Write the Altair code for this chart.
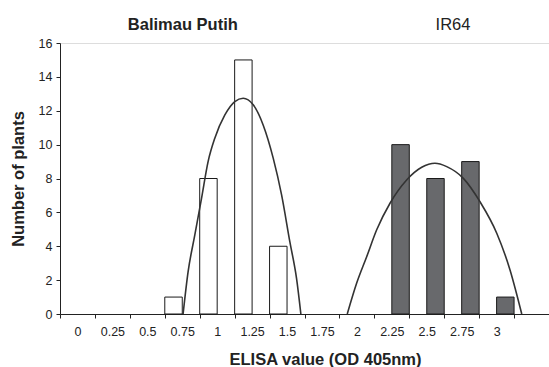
import altair as alt
import pandas as pd

# Category axis (ELISA value bins)
categories = ["0", "0.25", "0.5", "0.75", "1", "1.25", "1.5", "1.75", "2",
              "2.25", "2.5", "2.75", "3", "3.25"]
cultivars = ["Balimau Putih", "IR64"]

# Bar counts
bp_bins = ["0.75", "1", "1.25", "1.5"]
bp_counts = [1, 8, 15, 4]
ir_bins = ["2.25", "2.5", "2.75", "3"]
ir_counts = [10, 8, 9, 1]

# Fitted curves (x in ELISA units)
bp_curve_x = [0.756, 0.792, 0.840, 0.888, 0.935, 0.983, 1.055, 1.126, 1.186,
              1.258, 1.329, 1.401, 1.461, 1.520, 1.568, 1.599]
bp_curve_y = [0.0, 2.50, 4.67, 6.83, 9.0, 10.38, 11.75, 12.54, 12.74,
              12.35, 11.16, 9.2, 7.03, 4.27, 2.1, 0.0]
ir_curve_x = [1.931, 1.998, 2.070, 2.141, 2.237, 2.356, 2.464, 2.559, 2.643,
              2.762, 2.881, 3.001, 3.096, 3.180]
ir_curve_y = [0.0, 1.81, 3.38, 4.96, 6.54, 7.91, 8.66, 8.9, 8.70,
              8.01, 6.63, 4.77, 2.6, 0.0]

# Panel labels
label_text = ["Balimau Putih", "IR64"]
label_x = [0.754, 2.688]
label_y = [17.05, 17.05]

y_ticks = [0, 2, 4, 6, 8, 10, 12, 14, 16]

FONT = "Liberation Sans"

bars_df = pd.DataFrame({
    "elisa": bp_bins + ir_bins,
    "count": bp_counts + ir_counts,
    "cultivar": [cultivars[0]] * len(bp_bins) + [cultivars[1]] * len(ir_bins),
})
curve_df = pd.DataFrame({
    "v": bp_curve_x + ir_curve_x,
    "n": bp_curve_y + ir_curve_y,
    "cultivar": [cultivars[0]] * len(bp_curve_x) + [cultivars[1]] * len(ir_curve_x),
    "order": list(range(len(bp_curve_x))) + list(range(len(ir_curve_x))),
})
label_df = pd.DataFrame({"t": label_text, "v": label_x, "n": label_y})

yscale = alt.Scale(domain=[0, 16], nice=False)
qx = alt.Scale(domain=[-0.125, 3.375], nice=False, zero=False)

yaxis = alt.Axis(title="Number of plants", values=y_ticks, tickCount=9,
                 grid=False, domainColor="#222", tickColor="#222", tickSize=4,
                 labelPadding=4, labelFontSize=12.5, labelColor="#222",
                 labelOverlap=False,
                 titleFontSize=16.5, titleFontWeight="bold", titleColor="#222",
                 titlePadding=12)

bars = alt.Chart(bars_df).mark_bar(stroke="#1a1a1a", strokeWidth=1).encode(
    x=alt.X("elisa:N",
            scale=alt.Scale(domain=categories, paddingInner=0, paddingOuter=0),
            sort=categories,
            axis=alt.Axis(title="ELISA value (OD 405nm)", tickBand="extent",
                          labelAngle=0, labelExpr="datum.label == '3.25' ? '' : datum.label",
                          grid=False, domainColor="#222", tickColor="#222", tickSize=4,
                          labelPadding=7, labelFontSize=12.5, labelColor="#222",
                          labelOverlap=False,
                          titleFontSize=16.5, titleFontWeight="bold", titleColor="#222",
                          titlePadding=14, titleX=265, titleAlign="center")),
    xOffset=alt.XOffset("cultivar:N",
                        scale=alt.Scale(domain=cultivars, paddingInner=0, paddingOuter=0)),
    y=alt.Y("count:Q", scale=yscale, axis=yaxis),
    fill=alt.Fill("cultivar:N", scale=alt.Scale(domain=cultivars, range=["#ffffff", "#68696c"]),
                  legend=None),
)

curves = alt.Chart(curve_df).mark_line(color="#333333", strokeWidth=1.6,
                                       interpolate="monotone").encode(
    x=alt.X("v:Q", scale=qx, axis=None),
    y=alt.Y("n:Q", scale=yscale, axis=yaxis),
    detail="cultivar:N",
    order="order:Q",
)

label_base = alt.Chart(label_df).encode(
    x=alt.X("v:Q", scale=qx, axis=None),
    y=alt.Y("n:Q", scale=yscale, axis=yaxis),
    text="t:N",
)
label_bold = label_base.mark_text(fontSize=16.5, font=FONT, color="#222", fontWeight="bold",
                                  baseline="middle", align="center").transform_filter(
    alt.datum.t == label_text[0])
label_norm = label_base.mark_text(fontSize=16.5, font=FONT, color="#222", fontWeight="normal",
                                  baseline="middle", align="center").transform_filter(
    alt.datum.t == label_text[1])

chart = alt.layer(bars, curves, label_bold, label_norm).resolve_scale(x="independent").properties(
    width=489, height=271,
    autosize=alt.AutoSizeParams(type="none"),
    padding={"left": 60, "top": 43, "right": 0, "bottom": 53},
).configure_view(stroke=None).configure(
    font=FONT, background="white"
)

chart.save("out.html", embed_options={"renderer": "svg", "actions": False})
